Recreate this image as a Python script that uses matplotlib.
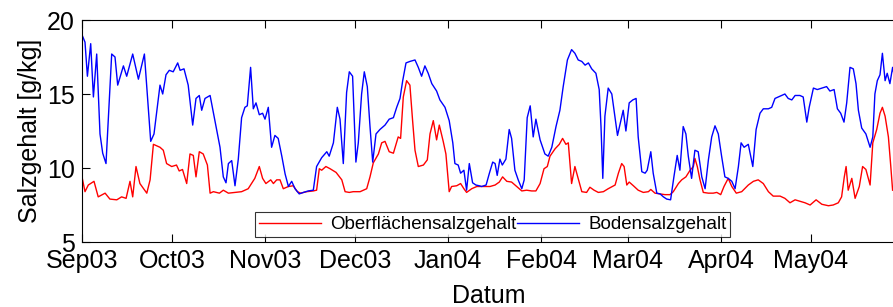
import matplotlib
matplotlib.use("Agg")
import matplotlib.pyplot as plt
import matplotlib.dates as mdates
import pandas as pd

start = pd.Timestamp("2003-09-01")

bottom_days = [0, 1.0, 1.8, 2.9, 3.8, 4.9, 6.0, 6.9, 8.0, 9.9, 11.0, 11.9, 13.8, 14.9, 16.9, 18.8, 20.8, 22.9, 24.0, 26.0,
               26.9, 28.0, 29.1, 30.4, 31.9, 32.7, 34.0, 35.4, 36.9, 38.0, 39.1, 39.9, 41.0, 42.7, 44.3, 46.0, 47.1, 48.0, 48.8, 49.9,
               51.0, 52.1, 53.2, 54.3, 55.1, 56.2, 57.1, 58.0, 59.1, 60.2, 61.0, 62.1, 63.2, 64.3, 65.4, 66.6, 67.7, 68.8, 69.9, 71.0,
               72.4, 73.8, 75.4, 77.1, 78.2, 79.9, 81.6, 82.4, 83.8, 85.1, 86.0, 87.1, 88.2, 89.1, 90.2, 91.3, 92.1, 93.2, 94.1, 95.1,
               96.0, 96.9, 98.0, 99.3, 101.0, 102.4, 103.8, 104.9, 106.0, 106.9, 108.0, 109.3, 111.0, 112.1, 113.2, 114.3, 115.4, 116.6, 118.2, 119.3,
               121.0, 122.4, 123.6, 124.3, 125.4, 126.2, 127.3, 128.2, 129.1, 130.2, 131.3, 132.4, 133.2, 134.7, 135.8, 136.9, 137.7, 138.4, 139.3, 140.1,
               141.3, 142.4, 143.2, 144.3, 145.4, 146.6, 147.4, 148.4, 149.4, 150.4, 151.3, 152.7, 154.3, 155.4, 156.6, 158.0, 159.3, 160.4, 161.8, 163.2,
               164.3, 165.4, 166.6, 167.7, 168.8, 169.9, 171.3, 172.4, 173.0, 173.6, 174.3, 175.4, 176.6, 177.7, 178.5, 179.6, 180.4, 181.3, 182.4, 183.6,
               184.7, 185.4, 186.6, 187.7, 188.4, 189.6, 190.4, 191.6, 192.7, 193.8, 194.9, 196.2, 197.3, 198.4, 199.3, 200.4, 201.3, 202.1, 203.2, 204.3,
               205.4, 206.6, 207.7, 208.8, 209.9, 211.0, 212.1, 213.2, 214.3, 215.4, 216.6, 217.7, 218.8, 219.7, 220.7, 222.1, 223.6, 224.7, 226.0, 227.1,
               228.8, 229.9, 231.0, 232.1, 233.2, 234.3, 235.4, 236.6, 237.7, 239.3, 240.4, 241.6, 242.4, 243.8, 245.1, 246.6, 248.2, 249.3, 250.7, 251.8,
               252.9, 254.0, 254.9, 256.0, 257.1, 258.0, 258.8, 259.9, 261.3, 262.7, 263.6, 264.3, 265.1, 266.0, 266.8, 267.7, 268.4, 269.3, 270.2, 271.0]
bottom_vals = [19.0, 18.5, 16.2, 18.4, 14.8, 17.7, 12.3, 11.0, 10.3, 17.7, 17.5, 15.6, 16.9, 16.2, 17.7, 16.0, 17.7, 11.8, 12.3, 15.6,
               15.0, 16.3, 16.6, 16.5, 17.1, 16.6, 16.7, 15.6, 12.9, 14.7, 14.9, 13.9, 14.7, 14.9, 13.2, 11.4, 9.4, 9.0, 10.3, 10.5,
               8.8, 10.6, 13.4, 14.1, 14.2, 16.8, 14.0, 14.4, 13.6, 13.7, 13.3, 14.1, 11.4, 12.2, 12.0, 10.8, 9.6, 8.75, 9.1, 8.6,
               8.25, 8.35, 8.45, 8.5, 10.1, 10.7, 11.1, 10.8, 11.7, 14.1, 13.3, 10.3, 15.1, 16.5, 16.2, 10.4, 11.7, 15.0, 16.5, 15.5,
               12.8, 10.4, 12.3, 12.6, 12.9, 13.3, 13.4, 14.1, 14.7, 15.9, 17.1, 17.2, 17.3, 16.8, 16.2, 16.9, 16.4, 15.7, 15.2, 14.6,
               14.1, 13.2, 11.7, 10.3, 10.2, 9.65, 9.85, 8.5, 10.3, 9.0, 8.85, 8.8, 8.75, 8.85, 9.65, 10.4, 10.3, 9.5, 10.6, 10.2,
               10.6, 12.6, 12.0, 9.85, 9.2, 8.6, 9.2, 13.4, 14.2, 12.1, 13.3, 11.9, 10.95, 10.8, 11.4, 12.8, 13.9, 15.5, 17.3, 18.0,
               17.75, 17.3, 17.2, 16.95, 17.1, 16.7, 16.4, 15.3, 12.8, 9.3, 13.5, 15.4, 15.0, 13.4, 12.2, 13.2, 13.9, 12.5, 14.4, 14.6,
               14.7, 12.1, 9.75, 9.65, 9.85, 11.1, 9.65, 8.3, 8.25, 8.05, 7.9, 7.85, 9.4, 10.85, 9.85, 12.8, 12.3, 10.8, 9.3, 11.2,
               11.1, 9.4, 8.6, 10.55, 12.1, 12.85, 12.3, 10.8, 9.4, 9.3, 9.1, 8.6, 10.1, 11.7, 11.4, 11.6, 10.1, 12.6, 13.7, 14.0,
               14.0, 14.1, 14.7, 14.8, 14.9, 15.0, 14.7, 14.6, 14.9, 14.9, 14.8, 13.1, 14.1, 15.4, 15.3, 15.4, 15.5, 15.2, 15.3, 14.0,
               13.7, 13.1, 14.4, 16.8, 16.7, 15.7, 13.9, 12.7, 12.3, 11.4, 12.1, 15.0, 15.9, 16.3, 17.75, 15.9, 16.4, 15.7, 16.8, 16.0]

surface_days = [0, 1.0, 2.1, 4.0, 5.4, 7.7, 9.3, 11.6, 13.2, 14.7, 16.0, 16.9, 18.0, 19.3, 21.6, 22.7, 23.8, 26.0, 27.1, 28.2,
                29.9, 31.5, 32.4, 33.5, 34.9, 36.0, 37.1, 38.0, 39.1, 40.4, 41.8, 42.7, 43.8, 45.8, 47.1, 48.8, 51.0, 53.2, 55.4, 57.6,
                59.1, 60.2, 61.3, 62.9, 63.8, 64.9, 66.0, 67.1, 68.8, 70.4, 71.8, 72.9, 74.9, 77.1, 78.2, 79.1, 79.9, 81.3, 82.7, 84.7,
                86.6, 87.7, 89.1, 90.4, 92.7, 94.9, 96.0, 97.1, 98.8, 99.9, 101.0, 102.4, 103.8, 105.4, 106.2, 107.1, 108.2, 109.3, 110.2, 111.0,
                112.1, 113.8, 115.1, 116.0, 117.1, 118.2, 119.1, 120.4, 121.3, 122.4, 123.2, 124.9, 126.2, 127.3, 128.2, 129.9, 131.6, 133.8, 136.0, 137.7,
                139.1, 140.2, 141.6, 143.2, 144.9, 146.6, 148.2, 149.9, 151.3, 152.7, 154.0, 155.1, 156.0, 157.7, 159.1, 160.2, 161.3, 162.1, 163.2, 164.3,
                165.4, 166.6, 168.2, 169.3, 170.7, 172.1, 173.8, 175.4, 177.7, 178.8, 179.9, 180.7, 181.6, 182.4, 183.8, 185.4, 187.1, 188.8, 189.6, 191.0,
                192.7, 194.3, 196.0, 197.1, 198.8, 199.9, 201.3, 202.7, 203.8, 204.3, 205.1, 206.0, 207.1, 208.8, 210.4, 211.6, 212.9, 214.0, 215.4, 216.6,
                218.1, 219.9, 222.1, 223.8, 225.4, 227.1, 228.8, 230.4, 232.7, 234.3, 236.0, 237.7, 239.3, 241.0, 242.7, 244.7, 246.6, 248.8, 250.4, 252.1,
                253.2, 254.1, 254.7, 255.4, 256.6, 257.7, 259.1, 260.2, 261.3, 262.7, 263.6, 264.9, 266.0, 266.8, 267.7, 268.8, 269.6, 270.2]
surface_vals = [9.4, 8.4, 8.85, 9.1, 8.05, 8.3, 7.9, 7.85, 8.05, 7.95, 9.1, 8.05, 10.1, 8.95, 8.3, 9.2, 11.6, 11.4, 11.2, 10.3,
                10.1, 10.2, 9.8, 9.9, 8.95, 10.95, 10.85, 9.4, 11.1, 10.95, 10.2, 8.3, 8.4, 8.3, 8.5, 8.3, 8.35, 8.4, 8.6, 9.3,
                10.1, 9.3, 8.95, 9.2, 8.95, 9.2, 9.2, 8.6, 8.75, 8.8, 8.4, 8.3, 8.4, 8.45, 8.5, 9.95, 9.85, 10.1, 9.95, 9.7,
                9.2, 8.4, 8.35, 8.4, 8.4, 8.6, 9.4, 10.35, 10.95, 11.7, 11.8, 11.1, 11.0, 12.1, 12.0, 14.8, 15.9, 15.6, 13.2, 11.2,
                10.1, 10.2, 10.55, 12.3, 13.2, 11.9, 12.9, 11.8, 10.95, 8.4, 8.75, 8.8, 8.95, 8.6, 8.35, 8.6, 8.75, 8.75, 8.75, 8.85,
                9.05, 9.4, 9.1, 9.05, 8.75, 8.45, 8.5, 8.45, 8.45, 8.95, 9.95, 10.1, 10.8, 11.3, 11.6, 12.0, 11.6, 11.7, 8.95, 10.1,
                9.3, 8.4, 8.35, 8.7, 8.5, 8.35, 8.4, 8.6, 8.85, 9.65, 10.3, 10.1, 8.85, 9.05, 8.8, 8.5, 8.35, 8.4, 8.55, 8.3,
                8.25, 8.2, 8.2, 8.4, 8.95, 9.2, 9.4, 9.85, 10.1, 10.65, 10.1, 9.2, 8.35, 8.3, 8.3, 8.35, 8.2, 8.75, 9.3, 8.75,
                8.3, 8.4, 8.85, 9.1, 9.2, 8.95, 8.4, 8.1, 8.1, 7.95, 7.65, 7.85, 7.75, 7.65, 7.5, 7.85, 7.55, 7.45, 7.5, 7.65,
                8.05, 9.4, 10.1, 8.5, 9.3, 7.95, 8.75, 10.1, 9.9, 8.85, 11.7, 12.6, 13.7, 14.1, 13.5, 12.1, 10.1, 8.5]

label_surface = "Oberflächensalzgehalt"
label_bottom = "Bodensalzgehalt"
x_label = "Datum"
y_label = "Salzgehalt [g/kg]"

plt.rcParams['font.family'] = ['Liberation Sans', 'DejaVu Sans']

W, H = 893, 307
fig = plt.figure(figsize=(W / 100, H / 100), dpi=100)
end_day = 271.5
ax = fig.add_axes([82 / W, 65 / H, end_day * 3 / W, 222 / H])

t_s = start + pd.to_timedelta(surface_days, unit="D")
t_b = start + pd.to_timedelta(bottom_days, unit="D")
ax.plot(t_s, surface_vals, color="#ff0000", lw=1.0, label=label_surface)
ax.plot(t_b, bottom_vals, color="#0000ff", lw=1.0, label=label_bottom)

ax.set_xlim(start, start + pd.Timedelta(days=end_day))
ax.set_ylim(5, 20)
ax.set_yticks([5, 10, 15, 20])
ax.xaxis.set_major_locator(mdates.MonthLocator())
ax.xaxis.set_major_formatter(mdates.DateFormatter("%b%y"))
ax.tick_params(direction="in", length=6, width=0.8, top=True, right=False,
               labelsize=18, pad=5)
for s in ax.spines.values():
    s.set_linewidth(0.8)
ax.set_xlabel(x_label, fontsize=18, labelpad=8)
ax.set_ylabel(y_label, fontsize=18, labelpad=4)

leg = ax.legend(loc="lower left", bbox_to_anchor=((255 - 82) / (end_day * 3), (242 - 237) / 222,
                                                  (730 - 255) / (end_day * 3), 32 / 222),
                mode="expand", ncol=2, fontsize=13.5, frameon=True, fancybox=False,
                handlelength=3.3, handletextpad=0.5, borderpad=0.2, borderaxespad=0, columnspacing=1.2)
leg.get_frame().set_edgecolor("black")
leg.get_frame().set_linewidth(0.8)

fig.savefig("out.png", dpi=100)
